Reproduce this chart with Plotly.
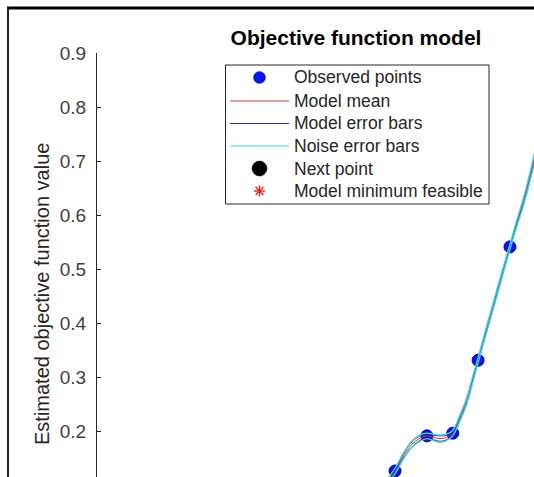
import math
import plotly.graph_objects as go

# ---- data ----
obs_x = [0.682, 0.755, 0.814, 0.872, 0.945]
obs_y = [0.126, 0.191, 0.196, 0.331, 0.541]

grid_x = [0.655, 0.682, 0.700, 0.720, 0.740, 0.755, 0.770, 0.785, 0.800, 0.814, 0.830, 0.845,
          0.860, 0.872, 0.890, 0.910, 0.930, 0.945, 0.960, 0.975, 0.990, 1.000, 1.015]
model_mean = [0.095, 0.126, 0.152, 0.175, 0.187, 0.191, 0.188, 0.186, 0.188, 0.196, 0.223, 0.253,
              0.296, 0.331, 0.384, 0.441, 0.499, 0.541, 0.583, 0.622, 0.668, 0.702, 0.755]
model_err = [0.004, 0.002, 0.004, 0.005, 0.004, 0.002, 0.004, 0.005, 0.004, 0.002, 0.004, 0.005,
             0.004, 0.002, 0.004, 0.005, 0.004, 0.002, 0.004, 0.005, 0.006, 0.007, 0.008]
noise_err = [0.006, 0.005, 0.006, 0.006, 0.006, 0.005, 0.006, 0.007, 0.006, 0.005, 0.006, 0.006,
             0.006, 0.005, 0.006, 0.006, 0.006, 0.005, 0.006, 0.007, 0.008, 0.009, 0.010]

next_x, next_y = [0.600], [0.060]
min_x, min_y = [0.620], [0.050]

y_ticks = [0.1, 0.2, 0.3, 0.4, 0.5, 0.6, 0.7, 0.8, 0.9]
legend_labels = ["Observed points", "Model mean", "Model error bars", "Noise error bars",
                 "Next point", "Model minimum feasible"]
title_text = "Objective function model"
ylabel_text = "Estimated objective function value"

# ---- layout geometry ----
W, H = 534, 477
L, T = 97, 53
PW, PH = W - L, H - T


def px(xpix):
    return (xpix - L) / PW


def py(ypix):
    return (H - ypix) / PH


FONT = "Liberation Sans, Arial, sans-serif"

noise_up = [m + e for m, e in zip(model_mean, noise_err)]
noise_dn = [m - e for m, e in zip(model_mean, noise_err)]
model_up = [m + e for m, e in zip(model_mean, model_err)]
model_dn = [m - e for m, e in zip(model_mean, model_err)]

OBS_BLUE = "#0a14e6"
BLUE_ERR = "#28288e"
CYAN = "#48d6de"
RED = "#c83c3c"
STAR_RED = "#e02424"

fig = go.Figure()

fig.add_trace(go.Scatter(x=obs_x, y=obs_y, mode="markers", name=legend_labels[0],
                         marker=dict(color=OBS_BLUE, size=12, line=dict(color="#0000b0", width=1))))
fig.add_trace(go.Scatter(x=grid_x, y=model_mean, mode="lines", name=legend_labels[1],
                         line=dict(color=RED, width=1, shape="spline")))
fig.add_trace(go.Scatter(x=grid_x, y=model_up, mode="lines", name=legend_labels[2],
                         line=dict(color=BLUE_ERR, width=1, shape="spline")))
fig.add_trace(go.Scatter(x=grid_x, y=model_dn, mode="lines", name=legend_labels[2],
                         line=dict(color=BLUE_ERR, width=1, shape="spline")))
fig.add_trace(go.Scatter(x=grid_x, y=noise_up, mode="lines", name=legend_labels[3],
                         line=dict(color=CYAN, width=1.3, shape="spline")))
fig.add_trace(go.Scatter(x=grid_x, y=noise_dn, mode="lines", name=legend_labels[3],
                         line=dict(color=CYAN, width=1.3, shape="spline")))
fig.add_trace(go.Scatter(x=next_x, y=next_y, mode="markers", name=legend_labels[4],
                         marker=dict(color="black", size=15)))
fig.add_trace(go.Scatter(x=min_x, y=min_y, mode="markers", name=legend_labels[5],
                         marker=dict(symbol="asterisk-open", size=10, color=STAR_RED,
                                     line=dict(color=STAR_RED, width=1.2))))

# ---- hand-drawn legend box (MATLAB style) ----
LEG_L, LEG_R, LEG_T, LEG_B = 225.5, 489, 65, 204
ROW_Y = [77.5, 101, 123.5, 146, 168.5, 191]
GLYPH_X = 259.5
LINE_X0, LINE_X1 = 230, 289
TEXT_X = 292

shapes = [
    dict(type="rect", xref="paper", yref="paper", x0=px(LEG_L), x1=px(LEG_R),
         y0=py(LEG_B), y1=py(LEG_T), line=dict(color="#262626", width=1), fillcolor="white",
         layer="above"),
]
annotations = []


def circle(cx, cy, d, color):
    r = d / 2
    return dict(type="circle", xref="paper", yref="paper", x0=px(cx - r), x1=px(cx + r),
                y0=py(cy + r), y1=py(cy - r), fillcolor=color, line=dict(color=color, width=0.5))


def hline(y, color):
    return dict(type="line", xref="paper", yref="paper", x0=px(LINE_X0), x1=px(LINE_X1),
                y0=py(y), y1=py(y), line=dict(color=color, width=1))


shapes.append(circle(GLYPH_X, ROW_Y[0], 12, OBS_BLUE))
shapes.append(hline(ROW_Y[1], RED))
shapes.append(hline(ROW_Y[2], BLUE_ERR))
shapes.append(hline(ROW_Y[3], CYAN))
shapes.append(circle(GLYPH_X, ROW_Y[4], 15, "black"))
# asterisk: four strokes through the centre
for ang in (0, 45, 90, 135):
    dx = 5.5 * math.cos(math.radians(ang))
    dy = 5.5 * math.sin(math.radians(ang))
    shapes.append(dict(type="line", xref="paper", yref="paper",
                       x0=px(GLYPH_X - dx), x1=px(GLYPH_X + dx),
                       y0=py(ROW_Y[5] - dy), y1=py(ROW_Y[5] + dy),
                       line=dict(color=STAR_RED, width=1.4)))

for lab, yy in zip(legend_labels, ROW_Y):
    annotations.append(dict(text=lab, xref="paper", yref="paper", x=px(TEXT_X), y=py(yy),
                            xanchor="left", yanchor="middle", showarrow=False,
                            font=dict(size=17.5, color="#262626", family=FONT)))

annotations.append(dict(text=ylabel_text, xref="paper", yref="paper", x=px(42), y=py(294),
                        xanchor="center", yanchor="middle", textangle=-90, showarrow=False,
                        font=dict(size=20, color="#262626", family=FONT)))

# figure window frame
shapes += [
    dict(type="line", xref="paper", yref="paper", x0=px(7), x1=px(540), y0=py(8), y1=py(8),
         line=dict(color="black", width=3)),
    dict(type="line", xref="paper", yref="paper", x0=px(8), x1=px(8), y0=py(7), y1=py(485),
         line=dict(color="#222222", width=2)),
]

fig.update_layout(
    width=W, height=H,
    margin=dict(l=L, r=0, t=T, b=0, autoexpand=False),
    paper_bgcolor="white", plot_bgcolor="white",
    font=dict(family=FONT, color="#262626"),
    title=dict(text="<b>" + title_text + "</b>", xref="paper", x=px(356), xanchor="center",
               yref="container", y=1 - 38 / H, yanchor="middle",
               font=dict(size=21, color="black", family=FONT)),
    showlegend=False,
    xaxis=dict(range=[0, 1], showgrid=False, zeroline=False, showline=False,
               showticklabels=False, ticks=""),
    yaxis=dict(range=[0.9 - PH / 540, 0.9], tickvals=y_ticks,
               ticktext=[f"{v:.1f}" for v in y_ticks],
               showgrid=False, zeroline=False, showline=True, linecolor="#262626", linewidth=1,
               ticks="inside", ticklen=4, tickcolor="#262626", ticklabelstandoff=6,
               tickfont=dict(size=19, color="#404040", family=FONT)),
    annotations=annotations,
    shapes=shapes,
)

fig.write_html("out.html", config={"displayModeBar": False},
               post_script="document.body.style.margin='0';document.body.style.overflow='hidden';")
